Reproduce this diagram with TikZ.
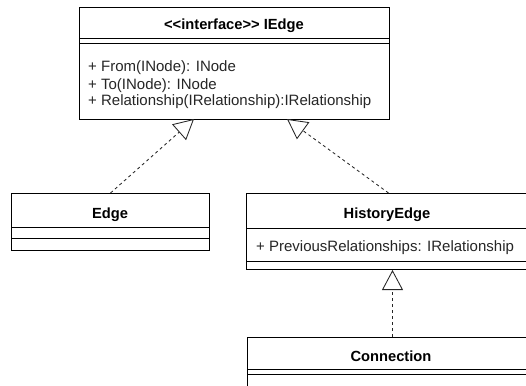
\documentclass[tikz,border=0pt]{standalone}
\usepackage{fontspec}
\setmainfont{Liberation Sans}
\usetikzlibrary{arrows.meta}
\newfontfamily\umlfont{Liberation Sans}
\begin{document}
\begin{tikzpicture}[x=1pt,y=-1pt,
  classbox/.style={draw=black, line width=1pt, fill=white, inner sep=0pt, anchor=north west},
  sep/.style={draw=black, line width=1pt},
  txt/.style={inner sep=0pt, text=black!85, font=\umlfont\fontsize{15}{17}\selectfont},
  title/.style={txt, text=black, font=\umlfont\bfseries\fontsize{14.7}{16.8}\selectfont, anchor=base},
  member/.style={txt, anchor=base west},
  realize/.style={draw=black!85, line width=0.85pt, dash pattern=on 3pt off 3pt,
    -{Triangle[open, length=20pt, width=21pt, fill=white]}}
]
\useasboundingbox (0,0) rectangle (526,385);
\clip (0,0) rectangle (526,385);

% interface IEdge
\node[classbox, minimum width=310pt, minimum height=112pt] (iedge) at (79,7) {};
\draw[sep] (79,39) -- (389,39);
\draw[sep] (79,43.5) -- (389,43.5);
\node[title] (iedgeT) at (234,30) {<<interface>> IEdge};
\node[member] (iedgeM1) at (88,72) {+ From(INode): INode};
\node[member] (iedgeM2) at (88,89) {+ To(INode): INode};
\node[member] (iedgeM3) at (88,105) {+ Relationship(IRelationship):IRelationship};

% class Edge
\node[classbox, minimum width=198pt, minimum height=57pt] (edge) at (11,193) {};
\draw[sep] (11,227) -- (209,227);
\draw[sep] (11,238) -- (209,238);
\node[title] (edgeT) at (110,218) {Edge};

% class HistoryEdge
\node[classbox, minimum width=284pt, minimum height=76pt] (history) at (246,193) {};
\draw[sep] (246,228) -- (530,228);
\draw[sep] (246,261) -- (530,261);
\node[title] (historyT) at (387,218) {HistoryEdge};
\node[member] (historyA1) at (256,251) {+ PreviousRelationships: IRelationship};

% class Connection
\node[classbox, minimum width=290pt, minimum height=60pt] (connection) at (247,337) {};
\draw[sep] (247,369) -- (537,369);
\draw[sep] (247,374) -- (537,374);
\node[title] (connectionT) at (391,361.5) {Connection};

% realization connectors
\coordinate (iedgeL) at (194,119);
\coordinate (iedgeR) at (287,119);
\draw[realize] (edge.north) -- (iedgeL);
\draw[realize] (history.north) -- (iedgeR);
\draw[realize] (connection.north) -- (connection.north |- history.south);
\end{tikzpicture}
\end{document}
